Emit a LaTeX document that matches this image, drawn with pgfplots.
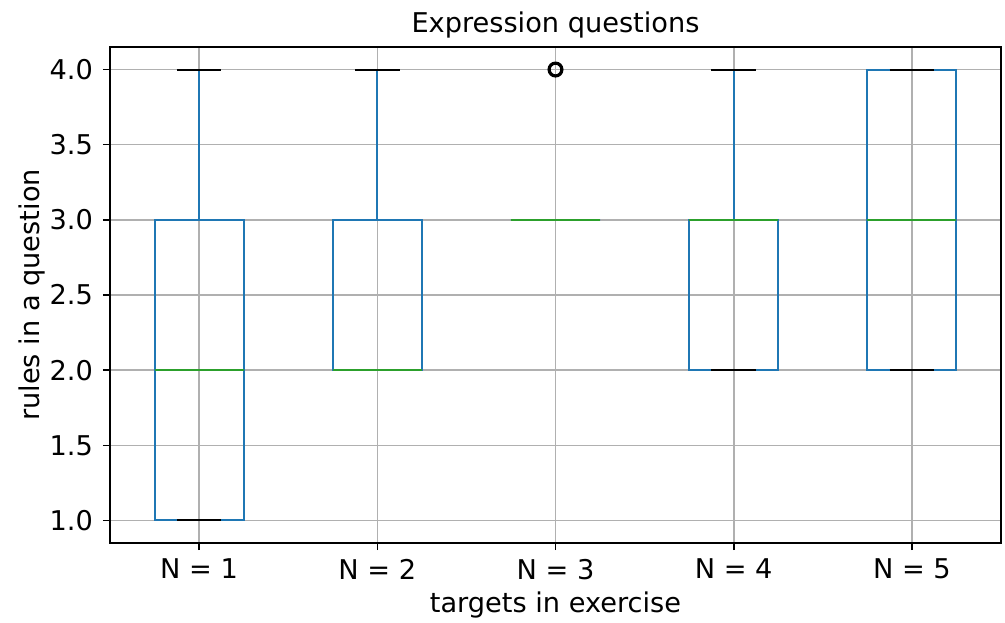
\documentclass[border=0pt]{standalone}
\usepackage{fontspec}
\setmainfont{DejaVu Sans}
\usepackage{pgfplots}
\pgfplotsset{compat=1.18}
\usepgfplotslibrary{statistics}
\usetikzlibrary{calc}
\definecolor{c1}{HTML}{1F77B4}
\definecolor{c3}{HTML}{2CA02C}
\definecolor{gridc}{HTML}{B0B0B0}
\newcommand{\fs}{\fontsize{13.6pt}{16pt}\selectfont}
\begin{document}
\begin{tikzpicture}
\pgfplotsset{
  boxplot/draw/median/.code={},
  boxplot/draw/lower whisker/.code={},
  boxplot/draw/upper whisker/.code={},
  boxplot/draw/box/.code={%
    \draw[c1,line width=1pt] (boxplot box cs:\pgfplotsboxplotvalue{lower quartile},0) rectangle (boxplot box cs:\pgfplotsboxplotvalue{upper quartile},1);
    \draw[c1,line width=1pt] (boxplot box cs:\pgfplotsboxplotvalue{lower quartile},0.5) -- (boxplot box cs:\pgfplotsboxplotvalue{lower whisker},0.5);
    \draw[c1,line width=1pt] (boxplot box cs:\pgfplotsboxplotvalue{upper quartile},0.5) -- (boxplot box cs:\pgfplotsboxplotvalue{upper whisker},0.5);
    \draw[black,line width=1pt] (boxplot whisker cs:\pgfplotsboxplotvalue{lower whisker},0) -- (boxplot whisker cs:\pgfplotsboxplotvalue{lower whisker},1);
    \draw[black,line width=1pt] (boxplot whisker cs:\pgfplotsboxplotvalue{upper whisker},0) -- (boxplot whisker cs:\pgfplotsboxplotvalue{upper whisker},1);
    \draw[c3,line width=1pt] (boxplot box cs:\pgfplotsboxplotvalue{median},0) -- (boxplot box cs:\pgfplotsboxplotvalue{median},1);
  },
}
\begin{axis}[
  name=ax,
  scale only axis,
  width=445.5pt, height=248pt,
  xmin=0.5, xmax=5.5,
  ymin=0.85, ymax=4.15,
  xtick={1,2,3,4,5},
  xticklabels={N = 1, N = 2, N = 3, N = 4, N = 5},
  ytick={1,1.5,2,2.5,3,3.5,4},
  /pgf/number format/assume math mode=true,
  tick label style={font=\fs, black},
  xticklabel style={yshift=-1pt},
  yticklabel style={xshift=-1.5pt, /pgf/number format/.cd, fixed, fixed zerofill, precision=1},
  label style={font=\fs},
  title style={font=\fs, at={(axis description cs:0.5,1)}, anchor=base, yshift=1pt},
  xlabel style={at={(axis description cs:0.5,0)}, anchor=base, yshift=-34.5pt},
  ylabel style={at={($(axis description cs:0,0.5)+(-35pt,0)$)}, anchor=base},
  title={Expression questions},
  xlabel={targets in exercise},
  ylabel={rules in a question},
  grid=major,
  grid style={gridc, line width=0.8pt},
  axis line style={line width=0.8pt},
  tick align=outside,
  tick pos=left,
  major tick length=3.5pt,
  major tick style={line width=0.8pt, black},
  boxplot/draw direction=y,
  boxplot/box extend=0.5,
  boxplot/whisker extend=0.25,
]
\addplot+[boxplot prepared={draw position=1, lower whisker=1, lower quartile=1, median=2, upper quartile=3, upper whisker=4}, no marks] coordinates {};
\addplot+[boxplot prepared={draw position=2, lower whisker=2, lower quartile=2, median=2, upper quartile=3, upper whisker=4}, no marks] coordinates {};
\addplot+[boxplot prepared={draw position=3, lower whisker=3, lower quartile=3, median=3, upper quartile=3, upper whisker=3}, mark=o, mark size=3.2pt, mark options={black, line width=1.6pt, solid}] coordinates {(3,4)};
\addplot+[boxplot prepared={draw position=4, lower whisker=2, lower quartile=2, median=3, upper quartile=3, upper whisker=4}, no marks] coordinates {};
\addplot+[boxplot prepared={draw position=5, lower whisker=2, lower quartile=2, median=3, upper quartile=4, upper whisker=4}, no marks] coordinates {};
\end{axis}
\pgfresetboundingbox
\path ([xshift=-55pt,yshift=-39.5pt]ax.south west) rectangle ([xshift=2pt,yshift=23.5pt]ax.north east);
\end{tikzpicture}
\end{document}
